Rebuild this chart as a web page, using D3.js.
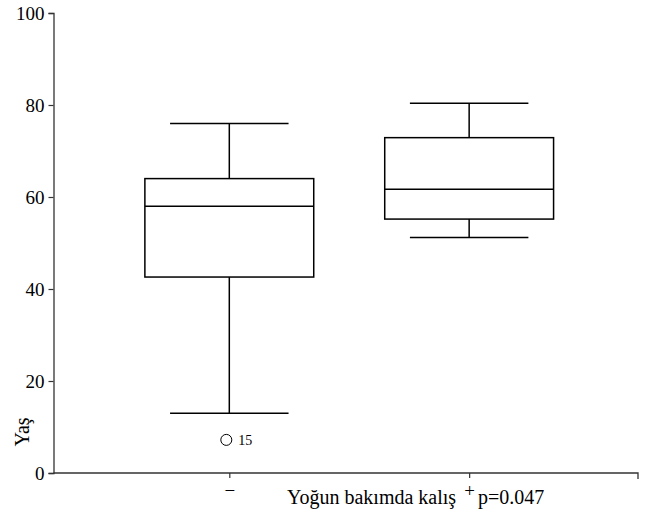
<!DOCTYPE html>
<html>
<head>
<meta charset="utf-8">
<script src="https://cdn.jsdelivr.net/npm/d3@7"></script>
<style>
body { margin: 0; background: #fff; }
text { font-family: "Liberation Serif", "Times New Roman", serif; }
</style>
</head>
<body>
<div id="chart"></div>
<script>
// groups and five-number summaries
let groups = ["\u2212", "+"];
let whiskerLow = [13.0, 51.2];
let q1 = [42.6, 55.2];
let median = [58.0, 61.7];
let q3 = [64.0, 72.9];
let whiskerHigh = [76.0, 80.4];
let outlierValues = [7.2];
let outlierGroup = [0];
let outlierLabels = ["15"];
let yTicks = [0, 20, 40, 60, 80, 100];

let width = 658, height = 521;

var svg = d3.select("#chart")
	.append("svg")
	.attr("width", width)
	.attr("height", height);

var y = d3.scaleLinear().domain([0, 100]).range([473, 13]);
// groups sit at 1 and 2 on a linear scale
var x = d3.scaleLinear().domain([0.267, 2.704]).range([53.5, 638]);

let boxHalf = 0.352;   // in group units
let capHalf = 0.247;

// y axis
var yAxis = svg.append("g")
	.attr("transform", "translate(53.5,0)")
	.call(d3.axisLeft(y).tickValues(yTicks).tickSize(5).tickPadding(4));
yAxis.select(".domain").attr("stroke", "#333").attr("stroke-width", 1.3);
yAxis.selectAll(".tick line").attr("stroke", "#333").attr("stroke-width", 1.2);
yAxis.selectAll(".tick text")
	.style("font-family", "Liberation Serif")
	.style("font-size", "19px")
	.attr("fill", "#000");

// x axis
var xAxis = svg.append("g")
	.attr("transform", "translate(0," + y(0) + ")")
	.call(d3.axisBottom(x).tickValues([1, 2]).tickSize(5).tickPadding(6)
		.tickFormat(function(d) { return groups[d - 1]; }));
xAxis.select(".domain").attr("stroke", "#333").attr("stroke-width", 1.3)
	.attr("d", "M53.5,0H" + x.range()[1] + "V6");
xAxis.selectAll(".tick line").attr("stroke", "#333").attr("stroke-width", 1.2);
xAxis.selectAll(".tick text")
	.style("font-family", "Liberation Serif")
	.style("font-size", "19px")
	.attr("fill", "#000");

// axis titles
svg.append("text")
	.attr("x", 287)
	.attr("y", 504)
	.style("font-size", "20px")
	.text("Yo\u011fun bak\u0131mda kal\u0131\u015f");
svg.append("text")
	.attr("x", 478)
	.attr("y", 504)
	.style("font-size", "20px")
	.text("p=0.047");
svg.append("text")
	.attr("transform", "translate(29,432) rotate(-90)")
	.attr("text-anchor", "middle")
	.style("font-size", "20px")
	.text("Ya\u015f");

// boxes
var boxes = svg.selectAll(".box")
	.data(groups)
	.enter().append("g")
	.attr("class", "box")
	.attr("fill", "none")
	.attr("stroke", "#000")
	.attr("stroke-width", 1.5);

boxes.append("line")
	.attr("x1", function(d, i) { return x(i + 1); })
	.attr("x2", function(d, i) { return x(i + 1); })
	.attr("y1", function(d, i) { return y(whiskerHigh[i]); })
	.attr("y2", function(d, i) { return y(q3[i]); });
boxes.append("line")
	.attr("x1", function(d, i) { return x(i + 1); })
	.attr("x2", function(d, i) { return x(i + 1); })
	.attr("y1", function(d, i) { return y(q1[i]); })
	.attr("y2", function(d, i) { return y(whiskerLow[i]); });
boxes.append("line")
	.attr("x1", function(d, i) { return x(i + 1 - capHalf); })
	.attr("x2", function(d, i) { return x(i + 1 + capHalf); })
	.attr("y1", function(d, i) { return y(whiskerHigh[i]); })
	.attr("y2", function(d, i) { return y(whiskerHigh[i]); });
boxes.append("line")
	.attr("x1", function(d, i) { return x(i + 1 - capHalf); })
	.attr("x2", function(d, i) { return x(i + 1 + capHalf); })
	.attr("y1", function(d, i) { return y(whiskerLow[i]); })
	.attr("y2", function(d, i) { return y(whiskerLow[i]); });
boxes.append("rect")
	.attr("x", function(d, i) { return x(i + 1 - boxHalf); })
	.attr("width", function(d, i) { return x(i + 1 + boxHalf) - x(i + 1 - boxHalf); })
	.attr("y", function(d, i) { return y(q3[i]); })
	.attr("height", function(d, i) { return y(q1[i]) - y(q3[i]); })
	.attr("fill", "#fff");
boxes.append("line")
	.attr("x1", function(d, i) { return x(i + 1 - boxHalf); })
	.attr("x2", function(d, i) { return x(i + 1 + boxHalf); })
	.attr("y1", function(d, i) { return y(median[i]); })
	.attr("y2", function(d, i) { return y(median[i]); });

// outliers
svg.selectAll(".outlier")
	.data(outlierValues)
	.enter().append("circle")
	.attr("class", "outlier")
	.attr("cx", function(d, i) { return x(outlierGroup[i] + 1) - 3; })
	.attr("cy", function(d) { return y(d); })
	.attr("r", 5.5)
	.attr("fill", "none")
	.attr("stroke", "#000")
	.attr("stroke-width", 1);
svg.selectAll(".outlierLabel")
	.data(outlierValues)
	.enter().append("text")
	.attr("class", "outlierLabel")
	.attr("x", function(d, i) { return x(outlierGroup[i] + 1) + 9; })
	.attr("y", function(d) { return y(d); })
	.attr("dy", ".35em")
	.style("font-size", "14px")
	.text(function(d, i) { return outlierLabels[i]; });
</script>
</body>
</html>
